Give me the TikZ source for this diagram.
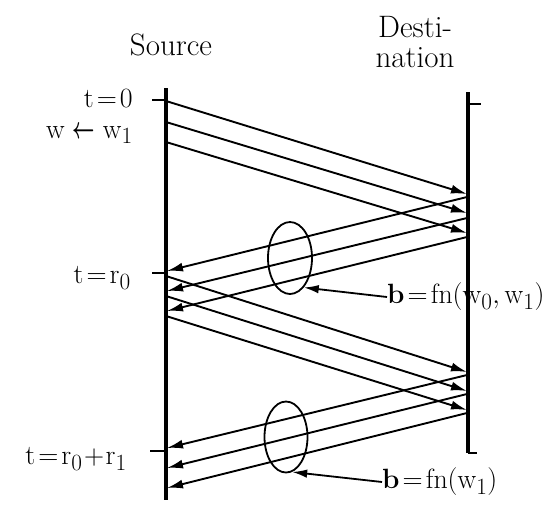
\documentclass[tikz,border=0pt]{standalone}
\usepackage{graphicx}
\usepackage{amsmath}
\usetikzlibrary{arrows.meta,shapes.geometric}
\newcommand{\mlab}[1]{\scalebox{1.12}{$#1$}}
\begin{document}
\begin{tikzpicture}[x=1pt,y=-1pt,
  timeline/.style={line width=3.4pt},
  tickmark/.style={line width=1.6pt},
  msg/.style={line width=1.9pt,-{Latex[length=16pt,width=9pt]}},
  grp/.style={line width=1.8pt},
  lbl/.style={font=\fontsize{24.88}{28}\selectfont,inner sep=0pt},
  head/.style={font=\fontsize{31}{34}\selectfont,inner sep=0pt},
  pointer/.style={line width=1.8pt,-{Latex[length=15pt,width=8.5pt]}}]
\useasboundingbox (0,0) rectangle (560,531);
% time lines
\coordinate (stop) at (166,88);  \coordinate (sbot) at (166,500);
\coordinate (dtop) at (468,92);  \coordinate (dbot) at (468,453);
\draw[timeline] (stop) -- (sbot);
\draw[timeline] (dtop) -- (dbot);
% ticks
\coordinate (t0a) at (152,100); \coordinate (t0b) at (166,100);
\coordinate (t1a) at (152,273); \coordinate (t1b) at (166,273);
\coordinate (t2a) at (150,451); \coordinate (t2b) at (166,451);
\coordinate (dt1a) at (468,104); \coordinate (dt1b) at (481,104);
\coordinate (dt2a) at (468,453); \coordinate (dt2b) at (477,453);
\draw[tickmark] (t0a) -- (t0b);
\draw[tickmark] (t1a) -- (t1b);
\draw[tickmark] (t2a) -- (t2b);
\draw[tickmark] (dt1a) -- (dt1b);
\draw[tickmark] (dt2a) -- (dt2b);
% headers
\node[head] (src) at (171,45) {Source};
\node[head] (dst1) at (415,27) {Desti-};
\node[head] (dst2) at (415,58) {nation};
% time labels
\node[lbl,anchor=east] (l0) at (133,99) {\mlab{\mathrm{t}\!=\!0}};
\node[lbl,anchor=east] (lw) at (133,135) {\mlab{\mathrm{w}\mathrel{\scalebox{0.7}[1.1]{$\boldsymbol{\leftarrow}$}}\mathrm{w}_1}};
\node[lbl,anchor=east] (l1) at (131,278) {\mlab{\mathrm{t}\!=\!\mathrm{r}_0}};
\node[lbl,anchor=east] (l2) at (127,459) {\mlab{\mathrm{t}\!=\!\mathrm{r}_0\!+\!\mathrm{r}_1}};
% first window: source -> destination
\coordinate (a1) at (166,101); \coordinate (b1) at (467,194);
\coordinate (a2) at (166,122); \coordinate (b2) at (467,213);
\coordinate (a3) at (166,142); \coordinate (b3) at (467,233);
\draw[msg] (a1) -- (b1);
\draw[msg] (a2) -- (b2);
\draw[msg] (a3) -- (b3);
% first acks: destination -> source
\coordinate (c1) at (467,197); \coordinate (e1) at (167,271);
\coordinate (c2) at (467,218); \coordinate (e2) at (167,291);
\coordinate (c3) at (467,237); \coordinate (e3) at (167,311);
\draw[msg] (c1) -- (e1);
\draw[msg] (c2) -- (e2);
\draw[msg] (c3) -- (e3);
% second window
\coordinate (f1) at (166,276); \coordinate (g1) at (467,372);
\coordinate (f2) at (166,296); \coordinate (g2) at (467,391);
\coordinate (f3) at (166,316); \coordinate (g3) at (467,410);
\draw[msg] (f1) -- (g1);
\draw[msg] (f2) -- (g2);
\draw[msg] (f3) -- (g3);
% second acks
\coordinate (h1) at (467,375); \coordinate (k1) at (167,448);
\coordinate (h2) at (467,394); \coordinate (k2) at (167,468);
\coordinate (h3) at (467,413); \coordinate (k3) at (167,488);
\draw[msg] (h1) -- (k1);
\draw[msg] (h2) -- (k2);
\draw[msg] (h3) -- (k3);
% groups
\node[grp,draw,ellipse,minimum width=44pt,minimum height=72pt,inner sep=0pt] (ell1) at (290,258) {};
\node[grp,draw,ellipse,minimum width=43pt,minimum height=71pt,inner sep=0pt] (ell2) at (286,437) {};
\node[lbl,anchor=west] (bl1) at (387,297) {\mlab{\mathbf{b}\!=\!\mathrm{fn}(\mathrm{w}_0,\mathrm{w}_1)}};
\node[lbl,anchor=west] (bl2) at (382,482) {\mlab{\mathbf{b}\!=\!\mathrm{fn}(\mathrm{w}_1)}};
\draw[pointer] (bl1.west) -- (ell1.-65);
\draw[pointer] (bl2.west) -- (ell2.-80);
\end{tikzpicture}
\end{document}
